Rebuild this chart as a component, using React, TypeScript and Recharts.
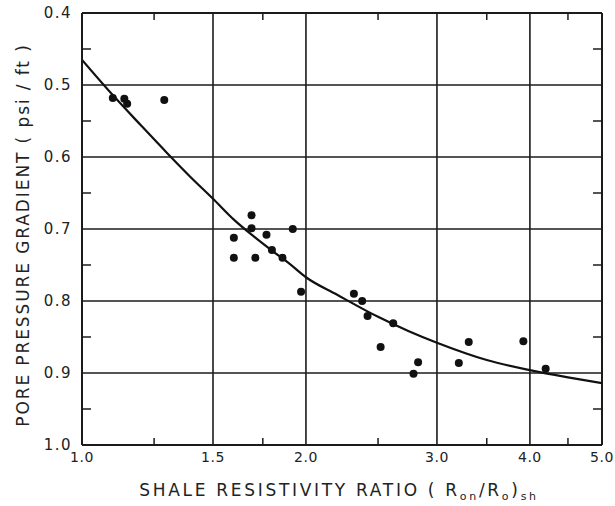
import { ComposedChart, Line, Scatter, XAxis, YAxis, ReferenceLine } from "recharts"

// Shale resistivity ratio vs. pore pressure gradient, field samples
const ratioSamples = [
  1.1, 1.14, 1.15, 1.29, 1.69, 1.69, 1.6, 1.77, 1.92, 1.8, 1.86, 1.6, 1.71,
  1.97, 2.32, 2.38, 2.42, 2.62, 2.52, 2.83, 2.79, 3.21, 3.31, 3.92, 4.2,
]
const gradientSamples = [
  0.518, 0.519, 0.526, 0.521, 0.681, 0.699, 0.712, 0.708, 0.7, 0.729, 0.74,
  0.74, 0.74, 0.787, 0.79, 0.8, 0.821, 0.831, 0.864, 0.885, 0.901, 0.886,
  0.857, 0.856, 0.894,
]

// hand-fitted trend curve
const trendRatio = [1.0, 1.1, 1.2, 1.3, 1.4, 1.5, 1.6, 1.7, 1.8, 1.9, 2.0, 2.2, 2.5, 2.75, 3.0, 3.5, 4.0, 4.5, 5.0]
const trendGradient = [
  0.465, 0.514, 0.556, 0.594, 0.628, 0.658, 0.687, 0.71, 0.73, 0.748, 0.767,
  0.791, 0.822, 0.842, 0.858, 0.882, 0.896, 0.906, 0.914,
]

const ratioTicks = [1.0, 1.5, 2.0, 3.0, 4.0, 5.0]
const ratioMinorTicks = [1.25, 1.75, 2.5, 3.5, 4.5]
const gradientTicks = [0.4, 0.5, 0.6, 0.7, 0.8, 0.9, 1.0]
const gradientMinorTicks = [0.45, 0.55, 0.65, 0.75, 0.85, 0.95]

const samples = ratioSamples.map((ratio, i) => ({ ratio, gradient: gradientSamples[i] }))
const trend = trendRatio.map((ratio, i) => ({ ratio, gradient: trendGradient[i] }))

// minor marks along the top edge (at the 0.4 line) and the right edge (at 5.0)
const topMarks = ratioMinorTicks.map((ratio) => ({ ratio, gradient: gradientTicks[0] }))
const rightMarks = gradientMinorTicks.map((gradient) => ({ ratio: ratioTicks[ratioTicks.length - 1], gradient }))

const ink = "#1b1b1b"
const textInk = "#222"
const font = "DejaVu Sans"

const allRatioTicks = [...ratioTicks, ...ratioMinorTicks].sort((a, b) => a - b)
const allGradientTicks = [...gradientTicks, ...gradientMinorTicks].sort((a, b) => a - b)

const isMajor = (list: number[], v: number) => list.some((t) => Math.abs(t - v) < 1e-6)

const BottomTick = (props: any) => {
  const { x, y, payload } = props
  if (isMajor(ratioTicks, payload.value)) {
    return (
      <text x={x} y={y + 17} textAnchor="middle" fontSize={14} fontFamily={font} fill={textInk} letterSpacing={0.5}>
        {payload.value.toFixed(1)}
      </text>
    )
  }
  return <line x1={x} x2={x} y1={y} y2={y - 7} stroke={ink} strokeWidth={1.5} />
}

const LeftTick = (props: any) => {
  const { x, y, payload } = props
  if (isMajor(gradientTicks, payload.value)) {
    return (
      <text x={x - 10} y={y} dy={5} textAnchor="end" fontSize={15} fontFamily={font} fill={textInk} letterSpacing={1.5}>
        {payload.value.toFixed(1)}
      </text>
    )
  }
  return <line x1={x} x2={x + 9} y1={y} y2={y} stroke={ink} strokeWidth={1.5} />
}

const TopMark = (props: any) => (
  <line x1={props.cx} x2={props.cx} y1={props.cy} y2={props.cy + 7} stroke={ink} strokeWidth={1.5} />
)

const RightMark = (props: any) => (
  <line x1={props.cx} x2={props.cx - 9} y1={props.cy} y2={props.cy} stroke={ink} strokeWidth={1.5} />
)

const XTitle = () => (
  <text x={339} y={496} textAnchor="middle" fontSize={17} fontFamily={font} fill={textInk} letterSpacing={2.7}>
    SHALE RESISTIVITY RATIO ( R
    <tspan fontSize={11} dy={4}>on</tspan>
    <tspan dy={-4}>/R</tspan>
    <tspan fontSize={11} dy={4}>o</tspan>
    <tspan dy={-4}>)</tspan>
    <tspan fontSize={11} dy={4}>sh</tspan>
  </text>
)

const YTitle = () => (
  <text
    x={23}
    y={235}
    transform="rotate(-90 23 235)"
    textAnchor="middle"
    dominantBaseline="central"
    fontSize={17}
    fontFamily={font}
    fill={textInk}
    letterSpacing={1.9}
  >
    PORE PRESSURE GRADIENT ( psi / ft )
  </text>
)

const Dot = (props: any) => <circle cx={props.cx} cy={props.cy} r={4} fill="#111" />

export default function App() {
  return (
    <div style={{ position: "absolute", left: 0, top: 0, background: "#fff", width: 615, height: 506 }}>
      <style>{"svg.recharts-surface{overflow:visible}"}</style>
      <ComposedChart width={615} height={506} margin={{ top: 13, right: 13, left: 0, bottom: 0 }}>
        <XAxis
          dataKey="ratio"
          type="number"
          scale="log"
          domain={[1, 5]}
          allowDataOverflow
          ticks={allRatioTicks}
          interval={0}
          tick={BottomTick}
          tickLine={false}
          tickSize={0}
          tickMargin={0}
          height={61}
          axisLine={{ stroke: ink, strokeWidth: 2 }}
          label={{ content: XTitle }}
        />
        <YAxis
          dataKey="gradient"
          type="number"
          domain={[0.4, 1.0]}
          reversed
          allowDataOverflow
          ticks={allGradientTicks}
          interval={0}
          tick={LeftTick}
          tickLine={false}
          tickSize={0}
          tickMargin={0}
          width={82}
          axisLine={{ stroke: ink, strokeWidth: 2 }}
          label={{ content: YTitle }}
        />
        {/* grid plus the top and right edges of the frame */}
        {ratioTicks.slice(1).map((t) => (
          <ReferenceLine key={`x${t}`} x={t} stroke={ink} strokeWidth={t === 5 ? 2 : 1.6} ifOverflow="visible" />
        ))}
        {gradientTicks.slice(0, -1).map((t) => (
          <ReferenceLine key={`y${t}`} y={t} stroke={ink} strokeWidth={t === 0.4 ? 2 : 1.6} ifOverflow="visible" />
        ))}
        <Scatter data={topMarks} dataKey="gradient" shape={TopMark} isAnimationActive={false} />
        <Scatter data={rightMarks} dataKey="gradient" shape={RightMark} isAnimationActive={false} />
        <Line
          data={trend}
          dataKey="gradient"
          type="monotone"
          stroke="#111"
          strokeWidth={2.2}
          dot={false}
          activeDot={false}
          isAnimationActive={false}
        />
        <Scatter data={samples} dataKey="gradient" shape={Dot} isAnimationActive={false} />
      </ComposedChart>
    </div>
  )
}
